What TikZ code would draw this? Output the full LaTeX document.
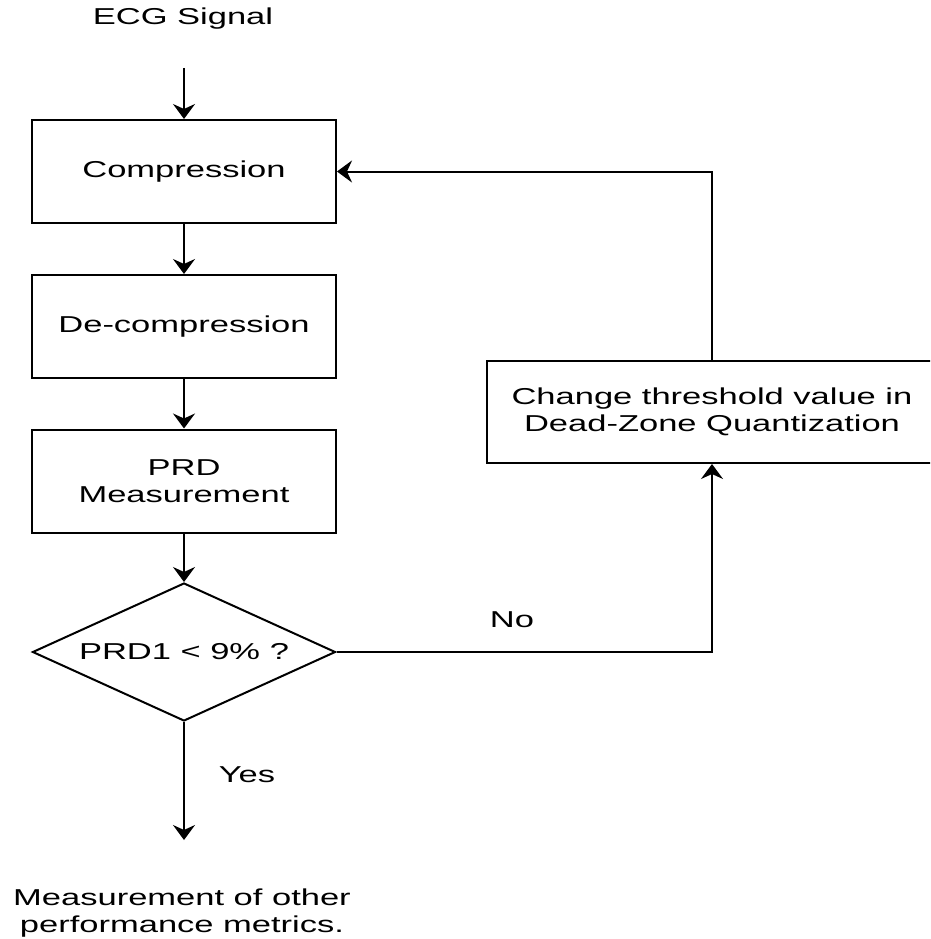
\documentclass[tikz,border=0pt]{standalone}
\usepackage{fontspec}
\setmainfont{Liberation Sans}[FakeStretch=1.5]
\usetikzlibrary{arrows.meta,shapes.geometric}
\begin{document}
\begin{tikzpicture}[x=1pt,y=-1pt,
  every node/.style={font=\fontsize{23}{27.5}\selectfont, inner sep=0pt},
  stepbox/.style={draw, line width=2pt, minimum width=304pt, minimum height=103pt, align=center},
  decision/.style={draw, diamond, aspect=2.2, line width=2pt, minimum width=303pt, minimum height=138pt, align=center},
  flow/.style={line width=2pt, -{Stealth[length=15pt,width=22pt,inset=5pt]}},
  link/.style={line width=2pt}]
  \useasboundingbox (0,0) rectangle (930,939);
  \clip (0,0) rectangle (930,939);

  % main chain
  \node (ecg) at (183,19) {ECG Signal};
  \coordinate (in) at (184,68);
  \node[stepbox] (comp) at (184,171.5) {Compression};
  \node[stepbox] (decomp) at (184,326.5) {De-compression};
  \node[stepbox] (prd) at (184,481) {PRD\\Measurement};
  \node[decision] (test) at (184,652) {PRD1 < 9\% ?};
  \coordinate (out) at (184,840);
  \node[align=center] (metrics) at (182,913) {Measurement of other\\performance metrics.};

  % feedback step
  \node[stepbox, minimum width=450pt, minimum height=102pt] (thresh) at (712,412)
    {Change threshold value in\\Dead-Zone Quantization};

  % connectors
  \draw[flow] (in) -- (comp);
  \draw[flow] (comp) -- (decomp);
  \draw[flow] (decomp) -- (prd);
  \draw[flow] (prd) -- (test);
  \draw[flow] (test) -- (out);
  \draw[flow] (test.east) -| (thresh.south);
  \draw[flow] (thresh.north) |- (comp.east);

  % branch labels
  \node (yes) at (247,775) {Yes};
  \node (no) at (512,620) {No};
\end{tikzpicture}
\end{document}
